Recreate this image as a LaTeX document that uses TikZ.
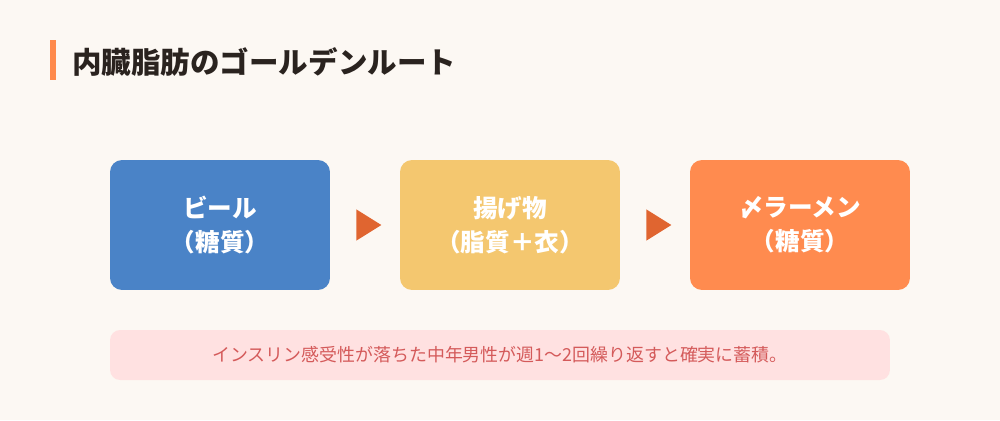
\documentclass[tikz,border=0pt]{standalone}
\usepackage{fontspec}
\usepackage{xcolor}
\usetikzlibrary{shapes.geometric}
\newfontfamily\jp{Noto Sans CJK JP}

\definecolor{pagebg}{HTML}{FCF8F3}
\definecolor{titleink}{HTML}{2A231F}
\definecolor{barorange}{HTML}{FF8A4C}
\definecolor{beerblue}{HTML}{4A83C7}
\definecolor{friedyellow}{HTML}{F4C76F}
\definecolor{ramenorange}{HTML}{FF8B4F}
\definecolor{arroworange}{HTML}{E06530}
\definecolor{notepink}{HTML}{FFE1E1}
\definecolor{notered}{HTML}{D45A5A}

\tikzset{
  foodbox/.style={rounded corners=0.24cm, minimum width=4.4cm, minimum height=2.6cm,
    align=center, text=white, font=\jp\bfseries\fontsize{14}{19.5}\selectfont},
  flowtri/.style={isosceles triangle, isosceles triangle apex angle=64, fill=arroworange,
    inner sep=0pt, minimum height=0.5cm, minimum width=0.6cm},
}

\begin{document}
\begin{tikzpicture}[x=0.02cm, y=-0.02cm]
\fill[pagebg] (0,0) rectangle (1000,420);
\useasboundingbox (0,0) rectangle (1000,420);

% heading
\fill[barorange] (50,40) rectangle (56,80);
\node[anchor=west, inner sep=0pt, text=titleink, font=\jp\bfseries\fontsize{16.8}{20}\selectfont] (title) at (72,62) {内臓脂肪のゴールデンルート};

% the three foods
\node[foodbox, fill=beerblue] (beer) at (220,225) {ビール\\（糖質）};
\node[foodbox, fill=friedyellow] (fried) at (510,225) {揚げ物\\（脂質＋衣）};
\node[foodbox, fill=ramenorange] (ramen) at (800,225) {〆ラーメン\\（糖質）};

\path (beer.east) -- node[flowtri] (arr1) {} (fried.west);
\path (fried.east) -- node[flowtri] (arr2) {} (ramen.west);

% note
\node[fill=notepink, rounded corners=0.2cm, minimum width=15.6cm, minimum height=1cm,
  text=notered, font=\jp\fontsize{10.2}{12}\selectfont] (note) at (500,355)
  {インスリン感受性が落ちた中年男性が週1〜2回繰り返すと確実に蓄積。};
\end{tikzpicture}
\end{document}
